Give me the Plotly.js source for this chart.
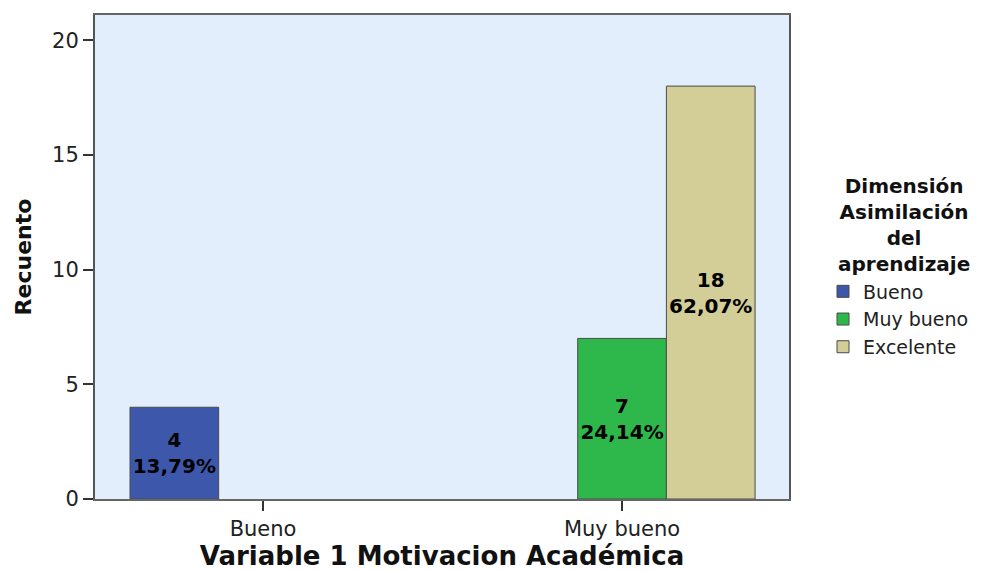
<!DOCTYPE html>
<html>
<head>
<meta charset="utf-8">
<script src="https://cdn.plot.ly/plotly-3.0.1.min.js"></script>
<style>
  html, body { margin: 0; padding: 0; background: #ffffff; }
  #chart { width: 982px; height: 571px; }
</style>
</head>
<body>
<div id="chart"></div>
<script>
// Categories on the x axis (Variable 1 Motivacion Académica)
var categories = ['Bueno', 'Muy bueno'];
// Series (Dimensión Asimilación del aprendizaje)
var seriesNames = ['Bueno', 'Muy bueno', 'Excelente'];
var countsBueno = [4, null];
var countsMuyBueno = [null, 7];
var countsExcelente = [null, 18];
var pctBueno = ['13,79%', null];
var pctMuyBueno = [null, '24,14%'];
var pctExcelente = [null, '62,07%'];
var yTicks = [0, 5, 10, 15, 20];
var legendTitleLines = ['Dimensión', 'Asimilación', 'del', 'aprendizaje'];

var colors = ['#3D57AB', '#2EB74A', '#D3CD97'];
var FONT = 'DejaVu Sans, Liberation Sans, Arial, sans-serif';

function labels(counts, pcts) {
  return counts.map(function (v, i) {
    return v === null ? '' : (v + '<br>' + pcts[i]);
  });
}

var seriesCounts = [countsBueno, countsMuyBueno, countsExcelente];
var seriesPcts = [pctBueno, pctMuyBueno, pctExcelente];

var traces = seriesNames.map(function (name, k) {
  return {
    type: 'bar',
    name: name,
    x: categories,
    y: seriesCounts[k],
    text: labels(seriesCounts[k], seriesPcts[k]),
    textposition: 'inside',
    insidetextanchor: 'middle',
    textangle: 0,
    constraintext: 'none',
    cliponaxis: false,
    textfont: { family: FONT, size: 20, color: '#000000', weight: 'bold' },
    marker: { color: colors[k], line: { color: '#4a4a4a', width: 1 } },
    hoverinfo: 'skip'
  };
});

var layout = {
  width: 982,
  height: 571,
  paper_bgcolor: '#ffffff',
  plot_bgcolor: '#E2EEFB',
  margin: { l: 95, r: 193, t: 15, b: 72, pad: 0, autoexpand: false },
  barmode: 'group',
  bargap: 0.259,
  bargroupgap: 0,
  uniformtext: { mode: 'show', minsize: 20 },
  font: { family: FONT, color: '#222222' },
  xaxis: {
    type: 'category',
    range: [-0.468, 1.465],
    showgrid: false,
    zeroline: false,
    showline: true,
    linecolor: '#666666',
    linewidth: 2,
    mirror: true,
    ticks: 'outside',
    ticklen: 10,
    tickwidth: 2,
    tickcolor: '#333333',
    tickfont: { family: FONT, size: 21, color: '#222222' },
    title: {
      text: 'Variable 1 Motivacion Académica',
      font: { family: FONT, size: 26, color: '#111111', weight: 'bold' },
      standoff: 6
    }
  },
  yaxis: {
    range: [0, 21.1],
    tickvals: yTicks,
    showgrid: false,
    zeroline: false,
    showline: true,
    linecolor: '#555555',
    linewidth: 2,
    mirror: true,
    ticks: 'outside',
    ticklen: 10,
    tickwidth: 2,
    tickcolor: '#333333',
    tickfont: { family: FONT, size: 21, color: '#222222' },
    title: {
      text: 'Recuento',
      font: { family: FONT, size: 22, color: '#111111', weight: 'bold' },
      standoff: 14
    }
  },
  showlegend: true,
  legend: {
    x: 1.049,
    xanchor: 'left',
    y: 0.468,
    yanchor: 'top',
    traceorder: 'normal',
    bgcolor: 'rgba(0,0,0,0)',
    font: { family: FONT, size: 19, color: '#222222' },
    itemwidth: 30
  },
  annotations: [{
    xref: 'paper', yref: 'paper',
    x: 1.166, y: 0.675,
    xanchor: 'center', yanchor: 'top',
    align: 'center',
    showarrow: false,
    text: legendTitleLines.join('<br>'),
    font: { family: FONT, size: 20, color: '#111111', weight: 'bold' }
  }]
};

Plotly.newPlot('chart', traces, layout, { displayModeBar: false, staticPlot: true });
</script>
</body>
</html>
